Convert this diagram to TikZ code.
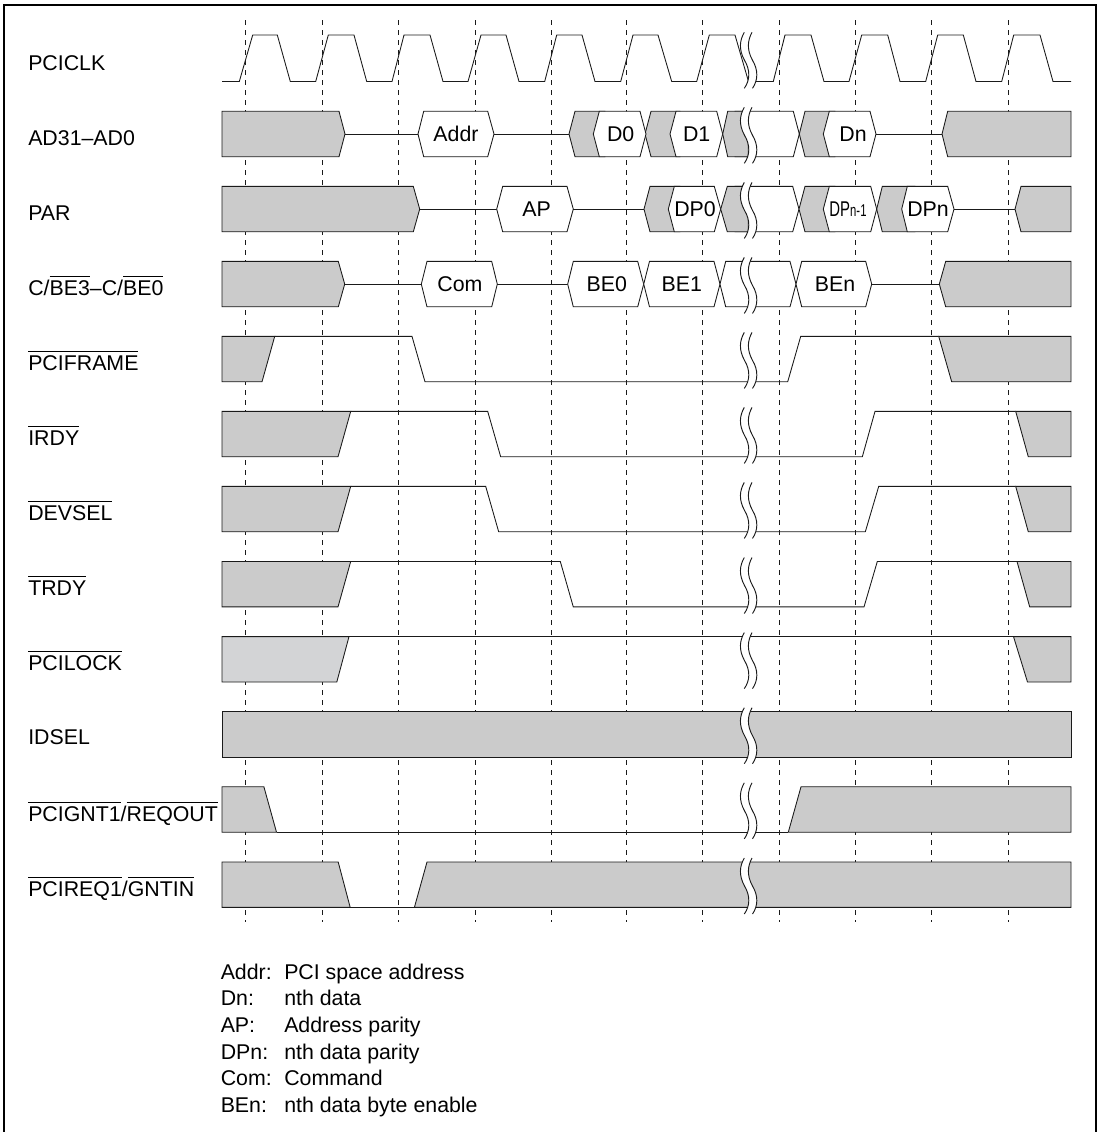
\documentclass[tikz,border=0pt]{standalone}
\usepackage{fontspec}
\usepackage{graphicx}
\setmainfont{Liberation Sans}
\definecolor{bandgrey}{HTML}{CBCBCB}
\definecolor{lockgrey}{HTML}{D3D4D6}
\definecolor{wire}{HTML}{1A1A1A}
\newcommand{\ovl}[1]{\setbox0\hbox{#1}\rlap{\rule[14pt]{\wd0}{0.6pt}}#1}
% tip, corner, corner, tip, top
\newcommand{\grey}[5]{\filldraw[sig,fill=bandgrey] (#1,{#5+22.7}) -- (#2,#5) -- (#3,#5) -- (#4,{#5+22.7}) -- (#3,{#5+45.4}) -- (#2,{#5+45.4}) -- cycle;}
\newcommand{\whitehex}[5]{\filldraw[sig,fill=white] (#1,{#5+22.7}) -- (#2,#5) -- (#3,#5) -- (#4,{#5+22.7}) -- (#3,{#5+45.4}) -- (#2,{#5+45.4}) -- cycle;}
% grey block open at the left with a tip at right
\newcommand{\greyL}[3]{\filldraw[sig,fill=bandgrey] (222,#3) -- (#1,#3) -- (#2,{#3+22.7}) -- (#1,{#3+45.4}) -- (222,{#3+45.4}) -- cycle;}
% grey block open at the right with a tip at left
\newcommand{\greyR}[3]{\filldraw[sig,fill=bandgrey] (#1,{#3+22.7}) -- (#2,#3) -- (1071,#3) -- (1071,{#3+45.4}) -- (#2,{#3+45.4}) -- cycle;}
\newcommand{\midline}[3]{\draw[sig] (#1,{#3+22.7}) -- (#2,{#3+22.7});}
\tikzset{
  sig/.style={draw=wire,line width=0.65pt,line join=miter},
  grid/.style={draw=wire,line width=0.65pt,dash pattern=on 4.1pt off 3.4pt},
  txt/.style={anchor=base,inner sep=0pt,font=\fontsize{16}{18}\selectfont},
  lab/.style={anchor=base west,inner sep=0pt,font=\fontsize{16}{18}\selectfont},
  frameline/.style={draw=black,line width=1.5pt,line join=miter}
}
\begin{document}
\begin{tikzpicture}[x=0.75pt,y=-0.75pt]
\useasboundingbox (0,0) rectangle (1099,1132);
\fill[white] (0,0) rectangle (1099,1132);
\draw[frameline] (4,1132) -- (4,5) -- (1096,5) -- (1096,1132);
% time grid
\foreach \gx in {245.7,322,398.3,475,551,626.3,702.7,779.3,855,931.3,1008}
  \draw[grid] (\gx,20) -- (\gx,922);
% PCICLK
\draw[sig] (222,81.5) -- (239.3,81.5) -- (252.7,35) -- (277.3,35) -- (290.3,81.5) -- (315.7,81.5) -- (328.3,35) -- (354,35) -- (366.7,81.5) -- (392,81.5) -- (404,35) -- (430,35) -- (443,81.5) -- (468,81.5) -- (481,35) -- (506,35) -- (519,81.5) -- (544.7,81.5) -- (556.7,35) -- (582,35) -- (595,81.5) -- (620.7,81.5) -- (633,35) -- (658,35) -- (671.7,81.5) -- (696.7,81.5) -- (709.3,35) -- (735,35) -- (748.5,81.5) -- (773.3,81.5) -- (785,35) -- (811,35) -- (824,81.5) -- (849,81.5) -- (861.7,35) -- (887.7,35) -- (900,81.5) -- (925.7,81.5) -- (937.7,35) -- (963.3,35) -- (976,81.5) -- (1001.7,81.5) -- (1013.7,35) -- (1040,35) -- (1053,81.5) -- (1071,81.5);
% AD31-AD0
\def\T{111.3}
\greyL{339}{345}{\T}
\midline{345}{418}{\T}
\whitehex{418}{423.7}{487.7}{494}{\T}
\midline{494}{569}{\T}
\grey{569}{575}{605}{605}{\T}
\grey{645}{651}{680}{680}{\T}
\whitehex{593.3}{599.3}{640}{646}{\T}
\whitehex{670}{676}{716.7}{722.7}{\T}
\whitehex{735}{735}{793.3}{799.3}{\T}
\filldraw[sig,fill=bandgrey] (722.7,{\T+22.7}) -- (727.7,\T) -- (748.3,\T) -- (748.3,{\T+45.4}) -- (727.7,{\T+45.4}) -- cycle;
\grey{799.3}{805}{835}{835}{\T}
\whitehex{823.3}{829.3}{870}{876}{\T}
\midline{876}{942}{\T}
\greyR{942}{947.7}{\T}
% PAR
\def\T{186.4}
\greyL{413.3}{419.7}{\T}
\midline{419.7}{496.7}{\T}
\whitehex{496.7}{502.7}{567}{573.3}{\T}
\midline{573.3}{644}{\T}
\grey{644}{650}{680}{680}{\T}
\whitehex{668.3}{674.3}{714.3}{720.7}{\T}
\whitehex{735}{735}{792.7}{799}{\T}
\filldraw[sig,fill=bandgrey] (720.7,{\T+22.7}) -- (727.3,\T) -- (748.3,\T) -- (748.3,{\T+45.4}) -- (727.3,{\T+45.4}) -- cycle;
\grey{799}{805}{835}{835}{\T}
\grey{876.7}{882.3}{915}{915}{\T}
\whitehex{823.3}{829.3}{870.7}{876.7}{\T}
\whitehex{901.7}{907.3}{947.7}{954}{\T}
\midline{954}{1015}{\T}
\greyR{1015}{1021}{\T}
% C/BE
\def\T{261.4}
\greyL{338.3}{344.7}{\T}
\midline{344.7}{421.3}{\T}
\whitehex{421.3}{427}{491.7}{497.3}{\T}
\midline{497.3}{567.7}{\T}
\whitehex{567.7}{573.3}{637.7}{643.7}{\T}
\whitehex{643.7}{649.5}{714}{720}{\T}
\whitehex{720}{725.7}{790}{796}{\T}
\whitehex{796}{801.7}{865.7}{871.7}{\T}
\midline{871.7}{939.3}{\T}
\greyR{939.3}{945.7}{\T}
% PCIFRAME
\def\T{336.4}
\filldraw[sig,fill=bandgrey] (222,\T) -- (274.7,\T) -- (262,{\T+45.4}) -- (222,{\T+45.4}) -- cycle;
\draw[sig] (274.7,\T) -- (412,\T) -- (425,{\T+45.4}) -- (787.7,{\T+45.4}) -- (800.7,\T) -- (938.7,\T);
\filldraw[sig,fill=bandgrey] (938.7,\T) -- (1071,\T) -- (1071,{\T+45.4}) -- (951.7,{\T+45.4}) -- cycle;
% IRDY
\def\T{411.4}
\filldraw[sig,fill=bandgrey] (222,\T) -- (350.7,\T) -- (338,{\T+45.4}) -- (222,{\T+45.4}) -- cycle;
\draw[sig] (350.7,\T) -- (487.7,\T) -- (500.7,{\T+45.4}) -- (862.3,{\T+45.4}) -- (875,\T) -- (1015.7,\T);
\filldraw[sig,fill=bandgrey] (1015.7,\T) -- (1071,\T) -- (1071,{\T+45.4}) -- (1028.3,{\T+45.4}) -- cycle;
% DEVSEL
\def\T{486.4}
\filldraw[sig,fill=bandgrey] (222,\T) -- (350.7,\T) -- (338,{\T+45.4}) -- (222,{\T+45.4}) -- cycle;
\draw[sig] (350.7,\T) -- (485.7,\T) -- (498.7,{\T+45.4}) -- (865.3,{\T+45.4}) -- (878.7,\T) -- (1015.7,\T);
\filldraw[sig,fill=bandgrey] (1015.7,\T) -- (1071,\T) -- (1071,{\T+45.4}) -- (1028.3,{\T+45.4}) -- cycle;
% TRDY
\def\T{561.5}
\filldraw[sig,fill=bandgrey] (222,\T) -- (350.7,\T) -- (338,{\T+45.4}) -- (222,{\T+45.4}) -- cycle;
\draw[sig] (350.7,\T) -- (560.3,\T) -- (573.3,{\T+45.4}) -- (864,{\T+45.4}) -- (877.3,\T) -- (1017,\T);
\filldraw[sig,fill=bandgrey] (1017,\T) -- (1071,\T) -- (1071,{\T+45.4}) -- (1029.7,{\T+45.4}) -- cycle;
% PCILOCK
\def\T{636.6}
\filldraw[sig,fill=lockgrey] (222,\T) -- (349,\T) -- (336.8,{\T+45.4}) -- (222,{\T+45.4}) -- cycle;
\draw[sig] (349,\T) -- (1013.5,\T);
\filldraw[sig,fill=bandgrey] (1013.5,\T) -- (1071,\T) -- (1071,{\T+45.4}) -- (1027.5,{\T+45.4}) -- cycle;
% IDSEL
\def\T{711.7}
\filldraw[sig,fill=bandgrey] (222,\T) rectangle (1071,{\T+45.4});
% PCIGNT1/REQOUT
\def\T{786.8}
\filldraw[sig,fill=bandgrey] (222,\T) -- (263.9,\T) -- (276.5,{\T+45.4}) -- (222,{\T+45.4}) -- cycle;
\draw[sig] (276.5,{\T+45.4}) -- (788.3,{\T+45.4});
\filldraw[sig,fill=bandgrey] (788.3,{\T+45.4}) -- (801,\T) -- (1071,\T) -- (1071,{\T+45.4}) -- cycle;
% PCIREQ1/GNTIN
\def\T{862}
\filldraw[sig,fill=bandgrey] (222,\T) -- (338.2,\T) -- (350.2,{\T+45.4}) -- (222,{\T+45.4}) -- cycle;
\draw[sig] (350.2,{\T+45.4}) -- (414.4,{\T+45.4});
\filldraw[sig,fill=bandgrey] (414.4,{\T+45.4}) -- (427,\T) -- (1071,\T) -- (1071,{\T+45.4}) -- cycle;
% breaks
\foreach \t in {36.3,111.3,186.4,261.4,336.4,411.4,486.4,561.5,636.6,711.7,786.8,862} {
  \fill[white] (744.3,{\t-4}) .. controls (739.7,{\t+4}) and (738.5,{\t+13}) .. (744.5,{\t+24}) .. controls (750.5,{\t+34}) and (750,{\t+44}) .. (744.3,{\t+52}) -- (752.5,{\t+52}) .. controls (758,{\t+44}) and (758.5,{\t+34}) .. (752.5,{\t+24}) .. controls (746.5,{\t+13}) and (747.7,{\t+4}) .. (752,{\t-4}) -- cycle;
  \draw[sig,line width=0.7pt] (744.3,{\t-4}) .. controls (739.7,{\t+4}) and (738.5,{\t+13}) .. (744.5,{\t+24}) .. controls (750.5,{\t+34}) and (750,{\t+44}) .. (744.3,{\t+52});
  \draw[sig,line width=0.7pt] (752,{\t-4}) .. controls (747.7,{\t+4}) and (746.5,{\t+13}) .. (752.5,{\t+24}) .. controls (758.5,{\t+34}) and (758,{\t+44}) .. (752.5,{\t+52});
}
% signal names
\node[lab] (lclk) at (28,70) {PCICLK};
\node[lab] (lad) at (28,145) {AD31–AD0};
\node[lab] (lpar) at (28,220) {PAR};
\node[lab] (lcbe) at (28,295) {C/\ovl{BE3}–C/\ovl{BE0}};
\node[lab] (lframe) at (28,370) {\ovl{PCIFRAME}};
\node[lab] (lirdy) at (28,445) {\ovl{IRDY}};
\node[lab] (ldevsel) at (28,520) {\ovl{DEVSEL}};
\node[lab] (ltrdy) at (28,595) {\ovl{TRDY}};
\node[lab] (llock) at (28,670) {\ovl{PCILOCK}};
\node[lab] (lidsel) at (28,744.5) {IDSEL};
\node[lab] (lgnt) at (28,821.7) {\ovl{PCIGNT1}/\ovl{REQOUT}};
\node[lab] (lreq) at (28,896.8) {\ovl{PCIREQ1}/\ovl{GNTIN}};
% bus values
\node[txt] (addr) at (456,141.7) {Addr};
\node[txt] (d0) at (620.7,141.7) {D0};
\node[txt] (d1) at (696.7,141.7) {D1};
\node[txt] (dn) at (853,141.7) {Dn};
\node[txt] (ap) at (536.7,216.8) {AP};
\node[txt] (dp0) at (695,216.8) {DP0};
\node[txt] (dpn1) at (848,216.8) {\scalebox{.7}[1]{DP}\scalebox{.53}[.8]{n-1}};
\node[txt] (dpn) at (928,216.8) {DPn};
\node[txt] (com) at (460,291.8) {Com};
\node[txt] (be0) at (606.7,291.8) {BE0};
\node[txt] (be1) at (681.7,291.8) {BE1};
\node[txt] (ben) at (835,291.8) {BEn};
% legend
\node[lab] (k1) at (220.5,979) {Addr:};
\node[lab] (v1) at (284,979) {PCI space address};
\node[lab] (k2) at (220.5,1005.7) {Dn:};
\node[lab] (v2) at (284,1005.7) {nth data};
\node[lab] (k3) at (220.5,1032.4) {AP:};
\node[lab] (v3) at (284,1032.4) {Address parity};
\node[lab] (k4) at (220.5,1059.1) {DPn:};
\node[lab] (v4) at (284,1059.1) {nth data parity};
\node[lab] (k5) at (220.5,1085.8) {Com:};
\node[lab] (v5) at (284,1085.8) {Command};
\node[lab] (k6) at (220.5,1112.7) {BEn:};
\node[lab] (v6) at (284,1112.7) {nth data byte enable};
\end{tikzpicture}
\end{document}
